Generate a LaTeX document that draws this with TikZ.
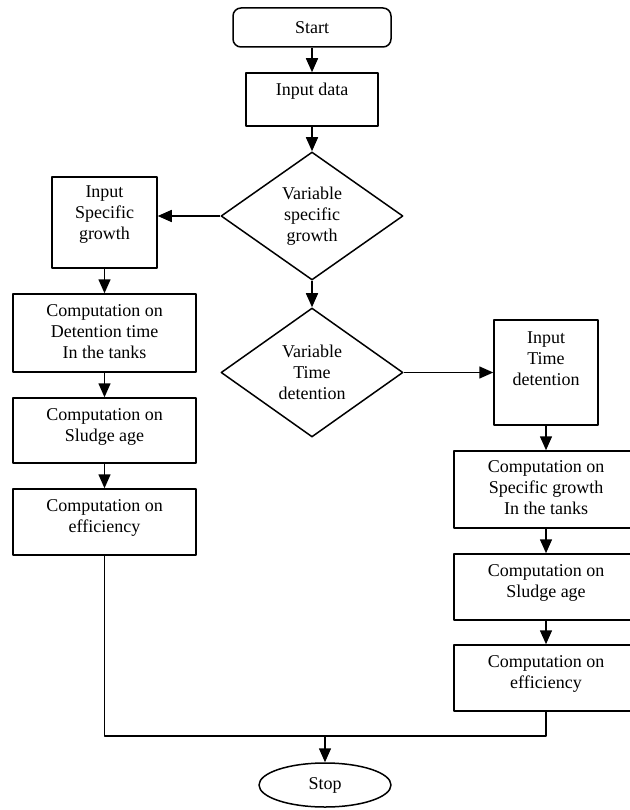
\documentclass[tikz,border=0pt]{standalone}
\usepackage{fontspec}
\setmainfont{Liberation Serif}
\usetikzlibrary{shapes.geometric,arrows.meta}
\begin{document}
\begin{tikzpicture}[x=1pt,y=-1pt,line width=1.5pt,line join=round,
	font=\fontsize{18}{21}\selectfont,
	>={Triangle[length=14pt,width=12pt]},
	box/.style={draw,rectangle,inner sep=0pt},
	wide/.style={box,minimum width=183pt},
	decide/.style={draw,diamond,aspect=1.42,inner sep=0pt,align=center,minimum width=182pt,minimum height=128pt},
	txt/.style={align=center,inner sep=0pt}]
	\useasboundingbox (0,0) rectangle (629,810);
	% main column
	\node[box,rounded corners=8pt,minimum width=158pt,minimum height=39pt] (start) at (312,27.5) {Start};
	\node[box,minimum width=132pt,minimum height=53pt] (indata) at (312,99.5) {};
	\node[txt] at (312,91) {Input data};
	\node[decide] (vsg) at (312,216) {Variable\\specific\\growth};
	\node[decide,minimum height=129pt] (vtd) at (312,372.5) {Variable\\Time\\detention};
	% left branch
	\node[box,minimum width=105pt,minimum height=91pt] (insg) at (104.5,222.5) {};
	\node[txt] at (104.5,215) {Input\\Specific\\growth};
	\node[wide,minimum height=78pt] (cdt) at (104.5,333) {};
	\node[txt] at (104.5,332) {Computation on\\Detention time\\In the tanks};
	\node[wide,minimum height=65pt] (csa) at (104.5,430.5) {};
	\node[txt] at (104.5,426.5) {Computation on\\Sludge age};
	\node[wide,minimum height=66pt] (cef) at (104.5,522) {};
	\node[txt] at (104.5,518) {Computation on\\efficiency};
	% right branch
	\node[box,minimum width=104pt,minimum height=105pt] (intd) at (546,372.5) {};
	\node[txt] at (546,359) {Input\\Time\\detention};
	\node[box,minimum width=184pt,minimum height=77pt] (csg) at (546,489.5) {};
	\node[txt] at (546,488) {Computation on\\Specific growth\\In the tanks};
	\node[box,minimum width=184pt,minimum height=66pt] (csa2) at (546,587) {};
	\node[txt] at (546,582.5) {Computation on\\Sludge age};
	\node[box,minimum width=184pt,minimum height=66pt] (cef2) at (546,678) {};
	\node[txt] at (546,673.5) {Computation on\\efficiency};
	% end
	\coordinate (join) at (325,736);
	\node[draw,ellipse,inner sep=0pt,minimum width=132pt,minimum height=44pt] (stop) at (325,785) {Stop};
	% connectors
	\draw[->] (start) -- (indata);
	\draw[->] (indata) -- (vsg);
	\draw[->] (vsg.west) -- (vsg.west -| insg.east);
	\draw[->] (insg) -- (cdt);
	\draw[->] (cdt) -- (csa);
	\draw[->] (csa) -- (cef);
	\draw[->] (vsg) -- (vtd);
	\draw[->] (vtd.east) -- (intd.west);
	\draw[->] (intd) -- (csg);
	\draw[->] (csg) -- (csa2);
	\draw[->] (csa2) -- (cef2);
	\draw (cef.south) |- (join) -| (cef2.south);
	\draw[->] (join) -- (stop);
\end{tikzpicture}
\end{document}
